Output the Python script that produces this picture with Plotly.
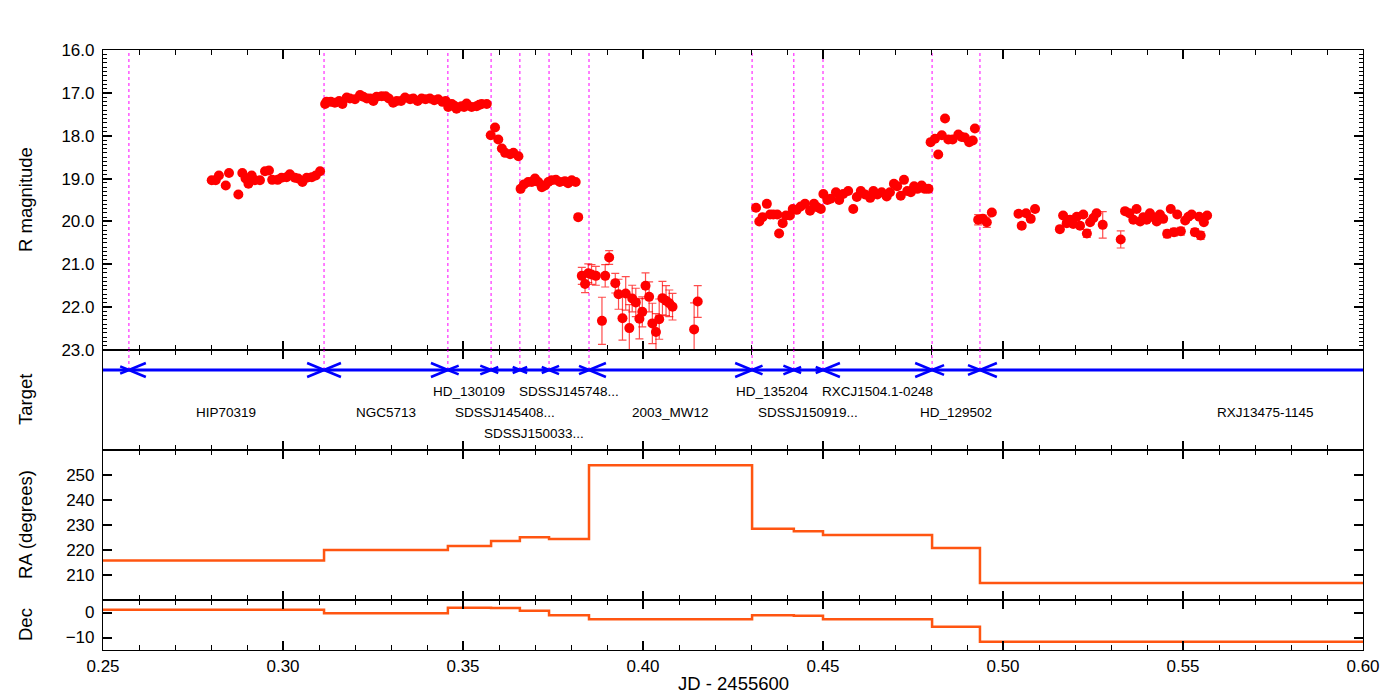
import plotly.graph_objects as go
from plotly.subplots import make_subplots

# --- photometry: JD - 2455600, R magnitude, error ---
jd = [
    # HIP70319
    0.2802, 0.2813, 0.2822, 0.2841, 0.2850, 0.2876, 0.2887, 0.2896, 0.2904, 0.2913, 0.2922, 0.2936, 0.2950,
    0.2961, 0.2970, 0.2985, 0.2996, 0.3010, 0.3019, 0.3033, 0.3042, 0.3054, 0.3066, 0.3080, 0.3091, 0.3103,
    # NGC5713
    0.3117, 0.3121, 0.3133, 0.3144, 0.3156, 0.3165, 0.3177, 0.3186, 0.3200, 0.3214, 0.3223, 0.3233, 0.3242,
    0.3251, 0.3260, 0.3274, 0.3285, 0.3294, 0.3306, 0.3316, 0.3328, 0.3339, 0.3353, 0.3362, 0.3374, 0.3385,
    0.3396, 0.3408, 0.3420, 0.3431, 0.3443, 0.3452,
    # HD_130109
    0.3459, 0.3469, 0.3476, 0.3482, 0.3496, 0.3503, 0.3510, 0.3524, 0.3538, 0.3545, 0.3552, 0.3566,
    # SDSSJ145408...
    0.3577, 0.3589, 0.3598, 0.3608, 0.3617, 0.3631, 0.3640, 0.3654,
    # SDSSJ150033...
    0.3660, 0.3669, 0.3681, 0.3691, 0.3700, 0.3709, 0.3719, 0.3728, 0.3737,
    # SDSSJ145748...
    0.3746, 0.3758, 0.3769, 0.3783, 0.3792, 0.3802, 0.3813, 0.3820,
    # 2003_MW12
    0.3830, 0.3839, 0.3848, 0.3857, 0.3869, 0.3886, 0.3895, 0.3906, 0.3923, 0.3932, 0.3943, 0.3952, 0.3962,
    0.3970, 0.3980, 0.3990, 0.3998, 0.4007, 0.4017, 0.4026, 0.4036, 0.4045, 0.4054, 0.4064, 0.4073, 0.4082,
    0.4142, 0.4152,
    # HD_135204
    0.4314, 0.4323, 0.4332, 0.4344, 0.4353, 0.4362, 0.4373, 0.4378, 0.4388, 0.4397, 0.4408, 0.4416,
    # SDSSJ150919...
    0.4427, 0.4438, 0.4450, 0.4464, 0.4475, 0.4484, 0.4494,
    # RXCJ1504.1-0248
    0.4501, 0.4512, 0.4521, 0.4536, 0.4545, 0.4556, 0.4570, 0.4584, 0.4594, 0.4605, 0.4617, 0.4631, 0.4640,
    0.4651, 0.4663, 0.4677, 0.4686, 0.4697, 0.4706, 0.4716, 0.4725, 0.4734, 0.4744, 0.4753, 0.4762, 0.4774,
    0.4783, 0.4793,
    # HD_129502
    0.4799, 0.4811, 0.4820, 0.4830, 0.4839, 0.4848, 0.4860, 0.4876, 0.4885, 0.4894, 0.4906, 0.4916, 0.4922,
    # RXJ13475-1145
    0.4931, 0.4944, 0.4955, 0.4969, 0.5043, 0.5052, 0.5064, 0.5077, 0.5089, 0.5158, 0.5167, 0.5177, 0.5186,
    0.5195, 0.5205, 0.5214, 0.5223, 0.5233, 0.5242, 0.5251, 0.5260, 0.5277, 0.5327, 0.5339, 0.5351, 0.5362,
    0.5371, 0.5381, 0.5390, 0.5399, 0.5408, 0.5418, 0.5427, 0.5436, 0.5445, 0.5456, 0.5466, 0.5475, 0.5484,
    0.5494, 0.5506, 0.5515, 0.5524, 0.5533, 0.5545, 0.5549, 0.5558, 0.5567,
]

rmag = [
    19.04, 19.04, 18.93, 19.16, 18.87, 19.37, 18.87, 19.00, 19.12, 18.93, 19.04, 19.04, 18.83,
    18.81, 19.03, 19.03, 18.98, 18.97, 18.90, 18.98, 19.00, 19.08, 18.98, 18.97, 18.93, 18.83,
    17.26, 17.21, 17.21, 17.23, 17.19, 17.26, 17.11, 17.13, 17.15, 17.05, 17.09, 17.13, 17.13,
    17.19, 17.09, 17.08, 17.08, 17.13, 17.23, 17.19, 17.19, 17.11, 17.15, 17.13, 17.19, 17.13,
    17.15, 17.13, 17.17, 17.15, 17.21, 17.19,
    17.33, 17.26, 17.30, 17.37, 17.31, 17.33, 17.25, 17.33, 17.31, 17.28, 17.26, 17.26,
    17.99, 17.81, 18.09, 18.30, 18.40, 18.43, 18.40, 18.48,
    19.24, 19.14, 19.08, 19.08, 19.00, 19.08, 19.20, 19.16, 19.08,
    19.04, 19.03, 19.08, 19.06, 19.11, 19.04, 19.08, 19.90,
    21.27, 21.46, 21.21, 21.24, 21.27, 22.32, 21.27, 20.84, 21.44, 21.70, 22.26, 21.68, 22.49,
    21.80, 21.89, 22.27, 22.11, 21.50, 21.76, 22.38, 22.58, 22.28, 21.79, 21.85, 21.91, 21.99,
    22.52, 21.87,
    19.68, 20.00, 19.90, 19.59, 19.84, 19.84, 19.84, 20.28, 20.04, 19.86, 19.86, 19.71,
    19.73, 19.65, 19.59, 19.75, 19.59, 19.67, 19.71,
    19.36, 19.50, 19.47, 19.32, 19.50, 19.36, 19.29, 19.71, 19.43, 19.29, 19.37, 19.45, 19.29,
    19.37, 19.32, 19.42, 19.32, 19.12, 19.18, 19.40, 19.03, 19.29, 19.32, 19.18, 19.24, 19.16,
    19.24, 19.24,
    18.15, 18.07, 18.44, 17.99, 17.60, 18.09, 18.09, 17.97, 18.03, 18.04, 18.15, 18.11, 17.83,
    19.96, 19.94, 20.02, 19.79, 19.82, 20.10, 19.81, 19.94, 19.71, 20.18, 19.86, 20.04, 19.96,
    20.06, 19.89, 20.10, 19.84, 20.28, 20.02, 19.92, 19.81, 20.08, 20.42, 19.76, 19.81, 19.96,
    19.71, 20.00, 19.90, 19.96, 19.81, 19.90, 20.00, 19.84, 19.94, 20.29, 19.71, 20.25, 19.84,
    20.23, 19.98, 19.89, 19.84, 20.25, 19.89, 20.33, 20.02, 19.86,
]

rerr = [
    0.03, 0.03, 0.03, 0.04, 0.03, 0.04, 0.03, 0.03, 0.03, 0.03, 0.03, 0.03, 0.03,
    0.03, 0.03, 0.03, 0.03, 0.03, 0.03, 0.03, 0.03, 0.03, 0.03, 0.03, 0.03, 0.03,
    0.02, 0.02, 0.02, 0.02, 0.02, 0.02, 0.02, 0.02, 0.02, 0.02, 0.02, 0.02, 0.02,
    0.02, 0.02, 0.02, 0.02, 0.02, 0.02, 0.02, 0.02, 0.02, 0.02, 0.02, 0.02, 0.02,
    0.02, 0.02, 0.02, 0.02, 0.02, 0.02,
    0.02, 0.02, 0.02, 0.02, 0.02, 0.02, 0.02, 0.02, 0.02, 0.02, 0.02, 0.02,
    0.03, 0.03, 0.03, 0.03, 0.03, 0.03, 0.03, 0.03,
    0.03, 0.03, 0.03, 0.03, 0.03, 0.03, 0.03, 0.03, 0.03,
    0.03, 0.03, 0.03, 0.03, 0.03, 0.03, 0.03, 0.05,
    0.20, 0.20, 0.22, 0.23, 0.22, 0.55, 0.26, 0.16, 0.23, 0.35, 0.51, 0.39, 0.55,
    0.31, 0.33, 0.47, 0.35, 0.30, 0.35, 0.47, 0.43, 0.47, 0.39, 0.35, 0.31, 0.31,
    0.62, 0.37,
    0.04, 0.04, 0.04, 0.04, 0.04, 0.04, 0.04, 0.05, 0.04, 0.04, 0.04, 0.04,
    0.04, 0.04, 0.04, 0.04, 0.04, 0.04, 0.04,
    0.03, 0.04, 0.04, 0.03, 0.04, 0.03, 0.03, 0.04, 0.03, 0.03, 0.03, 0.04, 0.03,
    0.03, 0.03, 0.04, 0.03, 0.03, 0.03, 0.04, 0.03, 0.03, 0.03, 0.03, 0.03, 0.03,
    0.03, 0.03,
    0.03, 0.03, 0.04, 0.03, 0.03, 0.03, 0.03, 0.03, 0.03, 0.03, 0.03, 0.03, 0.03,
    0.12, 0.09, 0.12, 0.05, 0.05, 0.06, 0.05, 0.05, 0.05, 0.06, 0.05, 0.05, 0.05,
    0.05, 0.05, 0.06, 0.05, 0.09, 0.05, 0.05, 0.05, 0.31, 0.20, 0.05, 0.05, 0.05,
    0.05, 0.05, 0.05, 0.05, 0.05, 0.05, 0.05, 0.05, 0.05, 0.09, 0.05, 0.09, 0.05,
    0.09, 0.05, 0.05, 0.05, 0.08, 0.05, 0.09, 0.05, 0.05,
]

# --- observing schedule: start of each pointing (last one ends at sched_end) ---
sched_start = [0.2475, 0.2572, 0.3114, 0.3458, 0.3578, 0.3658, 0.3739,
               0.3850, 0.4303, 0.4419, 0.4500, 0.4803, 0.4936]
sched_end = 0.6524
targets = ["", "HIP70319", "NGC5713", "HD_130109", "SDSSJ145408...", "SDSSJ150033...",
           "SDSSJ145748...", "2003_MW12", "HD_135204", "SDSSJ150919...",
           "RXCJ1504.1-0248", "HD_129502", "RXJ13475-1145"]
ra_deg = [215.8, 215.8, 220.0, 221.6, 223.6, 225.1, 224.4, 253.9, 228.5, 227.5, 226.0, 220.8, 206.8]
dec_deg = [1.1, 1.1, -0.3, 1.9, 1.8, 0.7, -1.1, -2.7, -1.1, -1.3, -2.7, -5.7, -11.7]
label_row = [0, 2, 2, 1, 2, 3, 1, 2, 1, 2, 1, 2, 2]

RED = '#ff0000'
ORANGE = '#ff5511'
FONT = 'Liberation Sans, Arial, sans-serif'

fig = make_subplots(rows=4, cols=1, shared_xaxes=True, vertical_spacing=0,
                    row_heights=[300, 100, 150, 50])

# light curve
fig.add_trace(go.Scatter(
    x=jd, y=rmag, mode='markers',
    marker=dict(color=RED, size=10, line=dict(width=0)),
    error_y=dict(type='data', array=rerr, color='rgba(255,0,0,0.7)', thickness=1.2, width=4),
    showlegend=False), row=1, col=1)

# target timeline: blue line with double arrow heads per pointing
line_y = 0.8
ends = sched_start[1:] + [sched_end]
fig.add_trace(go.Scatter(x=[sched_start[0], sched_end], y=[line_y, line_y], mode='lines',
                         line=dict(color='#0000ff', width=3), showlegend=False), row=2, col=1)
hx, hy = [], []
for s, e in zip(sched_start, ends):
    hl = min(0.0047, 0.25 * (e - s))
    hh = 0.07 * hl / 0.0047
    hx += [s + hl, s, s + hl, None, e - hl, e, e - hl, None]
    hy += [line_y + hh, line_y, line_y - hh, None, line_y + hh, line_y, line_y - hh, None]
fig.add_trace(go.Scatter(x=hx, y=hy, mode='lines', line=dict(color='#0000ff', width=2.5),
                         showlegend=False), row=2, col=1)

# target names centred on their pointing interval, staggered in rows
row_y = {1: 0.59, 2: 0.38, 3: 0.17}
for name, s, e, r in zip(targets, sched_start, ends, label_row):
    if name:
        fig.add_annotation(x=(s + e) / 2, y=row_y[r], xref='x2', yref='y2', text=name,
                           showarrow=False, font=dict(family=FONT, size=13.5, color='black'))

# RA / Dec steps
fig.add_trace(go.Scatter(x=sched_start + [sched_end], y=ra_deg + [ra_deg[-1]], mode='lines',
                         line=dict(color=ORANGE, width=2.5, shape='hv'), showlegend=False), row=3, col=1)
fig.add_trace(go.Scatter(x=sched_start + [sched_end], y=dec_deg + [dec_deg[-1]], mode='lines',
                         line=dict(color=ORANGE, width=2.5, shape='hv'), showlegend=False), row=4, col=1)

# dashed markers at pointing changes
for t in sched_start[1:]:
    fig.add_shape(type='line', x0=t, x1=t, y0=0, y1=1, xref='x', yref='y domain',
                  line=dict(color='#ff00ff', width=1, dash='3px,3px'), layer='below')
    fig.add_shape(type='line', x0=t, x1=t, y0=line_y, y1=1, xref='x2', yref='y2',
                  line=dict(color='#ff00ff', width=1, dash='3px,3px'), layer='below')

axis_common = dict(showline=True, linecolor='black', linewidth=1.2, mirror='allticks',
                   ticks='inside', tickcolor='black', showgrid=False, zeroline=False,
                   tickfont=dict(family=FONT, size=17, color='black'))

for i in range(1, 5):
    fig.update_xaxes(range=[0.25, 0.60], dtick=0.05, tick0=0.25, tickformat='.2f',
                     ticklen=9, tickwidth=1.5,
                     minor=dict(dtick=0.01, ticks='inside', ticklen=5, tickcolor='black', tickwidth=1),
                     row=i, col=1, **axis_common)

fig.update_yaxes(range=[23.0005, 15.9995], tickvals=[16, 17, 18, 19, 20, 21, 22, 23],
                 tickformat='.1f', ticklen=9, tickwidth=1.5, ticklabelstandoff=4,
                 minor=dict(dtick=0.1, ticks='inside', ticklen=4, tickcolor='black', tickwidth=1),
                 row=1, col=1, **axis_common)
fig.update_yaxes(range=[0, 1], showticklabels=False, row=2, col=1,
                 **{**axis_common, 'ticks': ''})
fig.update_yaxes(range=[200, 260], tickvals=[210, 220, 230, 240, 250], ticklen=9, tickwidth=1.5,
                 ticklabelstandoff=4, row=3, col=1, **axis_common)
fig.update_yaxes(range=[-15, 5], tickvals=[-10, 0], ticklen=9, tickwidth=1.5,
                 ticklabelstandoff=4, row=4, col=1, **axis_common)

# axis titles
ytitles = [('y', 'R magnitude'), ('y2', 'Target'), ('y3', 'RA (degrees)'), ('y4', 'Dec')]
for ax, txt in ytitles:
    fig.add_annotation(x=-0.0619, y=0.5, xref='paper', yref=ax + ' domain', text=txt,
                       textangle=-90, showarrow=False, xanchor='center', yanchor='middle',
                       font=dict(family=FONT, size=18.5, color='black'))
fig.add_annotation(x=0.5, y=0, xref='paper', yref='paper', yshift=-33, yanchor='middle',
                   text='JD - 2455600', showarrow=False,
                   font=dict(family=FONT, size=18.5, color='black'))

# page body adds an 8px offset, margins compensate so the frame sits at 103..1363 x 50..650
fig.update_layout(width=1400, height=700, margin=dict(l=95, r=45, t=42, b=58),
                  plot_bgcolor='white', paper_bgcolor='white', showlegend=False)

fig.write_html("out.html")
